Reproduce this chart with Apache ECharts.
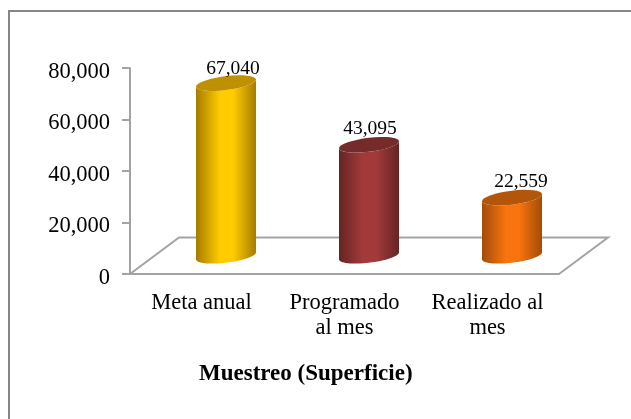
<!DOCTYPE html>
<html>
<head>
<meta charset="utf-8">
<style>
  html, body { margin: 0; padding: 0; background: #fff; }
  #chart { width: 631px; height: 419px; }
</style>
<script src="https://cdn.jsdelivr.net/npm/echarts@6/dist/echarts.min.js"></script>
</head>
<body>
<div id="chart"></div>
<script>
const categories = ['Meta anual', 'Programado\nal mes', 'Realizado al\nmes'];
const values = [67040, 43095, 22559];
const yTicks = [0, 20000, 40000, 60000, 80000];

// colores de cada cilindro: borde, centro, tapa
const barColors = [
  ['#a67c00', '#ffcc00', '#bf9000'],
  ['#652424', '#a33a3a', '#762b2b'],
  ['#a44c08', '#f8740e', '#b4560a']
];

const font = 'Liberation Serif';
const grey = '#a3a3a3';
// profundidad del piso 3D
const depthX = 49;
const depthY = 36.5;
const labelShiftX = [7, 1, 9];
const labelShiftY = [-14, -15.5, -16];

const chart = echarts.init(document.getElementById('chart'));

function ellipsePoints(cx, cy, from, to) {
  const pts = [];
  for (let i = 0; i <= 32; i++) {
    const t = from + (to - from) * i / 32;
    pts.push([cx + 30 * Math.cos(t), cy - 3.5 * Math.cos(t) + 7 * Math.sin(t)]);
  }
  return pts;
}

function renderFloor(params, api) {
  const c = params.coordSys;
  const y0 = c.y + c.height;
  const x1 = c.x + c.width;
  return {
    type: 'polyline',
    silent: true,
    shape: {
      points: [
        [c.x, y0],
        [c.x + depthX, y0 - depthY],
        [x1 + depthX, y0 - depthY],
        [x1, y0]
      ]
    },
    style: { fill: null, stroke: grey, lineWidth: 2 }
  };
}

function renderCylinder(params, api) {
  const i = params.dataIndex;
  const top = api.coord([i, api.value(1)]);
  const base = api.coord([i, 0]);
  const cx = top[0] + depthX / 2;
  const topY = top[1] - depthY / 2;
  const baseY = base[1] - depthY / 2;
  const col = barColors[i];
  const body = ellipsePoints(cx, baseY, Math.PI, 0)
    .concat(ellipsePoints(cx, topY, 0, Math.PI));
  return {
    type: 'group',
    children: [
      {
        type: 'polygon',
        shape: { points: body },
        style: {
          fill: new echarts.graphic.LinearGradient(0, 0, 1, 0, [
            { offset: 0, color: col[0] },
            { offset: 0.4, color: col[1] },
            { offset: 0.62, color: col[1] },
            { offset: 1, color: col[0] }
          ])
        }
      },
      {
        type: 'polygon',
        shape: { points: ellipsePoints(cx, topY, 0, Math.PI * 2) },
        style: { fill: col[2] }
      },
      {
        type: 'text',
        style: {
          x: cx + labelShiftX[i],
          y: topY + labelShiftY[i],
          text: values[i].toLocaleString('en-US'),
          font: '19.5px "' + font + '"',
          fill: '#000',
          align: 'center',
          verticalAlign: 'middle'
        }
      }
    ]
  };
}

chart.setOption({
  animation: false,
  backgroundColor: '#fff',
  grid: { left: 130, right: 72, top: 68, bottom: 145, containLabel: false },
  title: {
    text: 'Muestreo (Superficie)',
    left: 199,
    top: 363,
    padding: 0,
    textStyle: { fontFamily: font, fontSize: 23, fontWeight: 'bold', color: '#000' }
  },
  graphic: [{
    // el marco solo tiene lado superior e izquierdo, el resto queda recortado
    type: 'polyline',
    silent: true,
    z: -1,
    shape: { points: [[9, 419], [9, 11], [631, 11]] },
    style: { fill: null, stroke: '#868686', lineWidth: 2 }
  }],
  xAxis: {
    type: 'category',
    data: categories,
    axisLine: { onZero: false, lineStyle: { color: grey, width: 2 } },
    axisTick: { length: 7, alignWithLabel: false, lineStyle: { color: grey, width: 2 } },
    axisLabel: {
      color: '#000',
      fontFamily: font,
      fontSize: 22.5,
      lineHeight: 25,
      margin: 17,
      interval: 0
    }
  },
  yAxis: {
    type: 'value',
    min: yTicks[0],
    max: yTicks[yTicks.length - 1],
    interval: yTicks[1] - yTicks[0],
    axisLine: { show: true, lineStyle: { color: grey, width: 2 } },
    axisTick: { show: true, length: 8, lineStyle: { color: grey, width: 2 } },
    splitLine: { show: false },
    axisLabel: {
      color: '#000',
      fontFamily: font,
      fontSize: 22.5,
      margin: 20,
      verticalAlign: 'top',
      lineHeight: 8,
      formatter: v => v.toLocaleString('en-US')
    }
  },
  series: [
    {
      type: 'custom',
      z: 1,
      silent: true,
      renderItem: renderFloor,
      data: [[0, 0]],
      encode: { x: 0, y: 1 }
    },
    {
      type: 'custom',
      z: 3,
      silent: true,
      renderItem: renderCylinder,
      data: values.map((v, i) => [i, v]),
      encode: { x: 0, y: 1 }
    }
  ]
});
</script>
</body>
</html>
